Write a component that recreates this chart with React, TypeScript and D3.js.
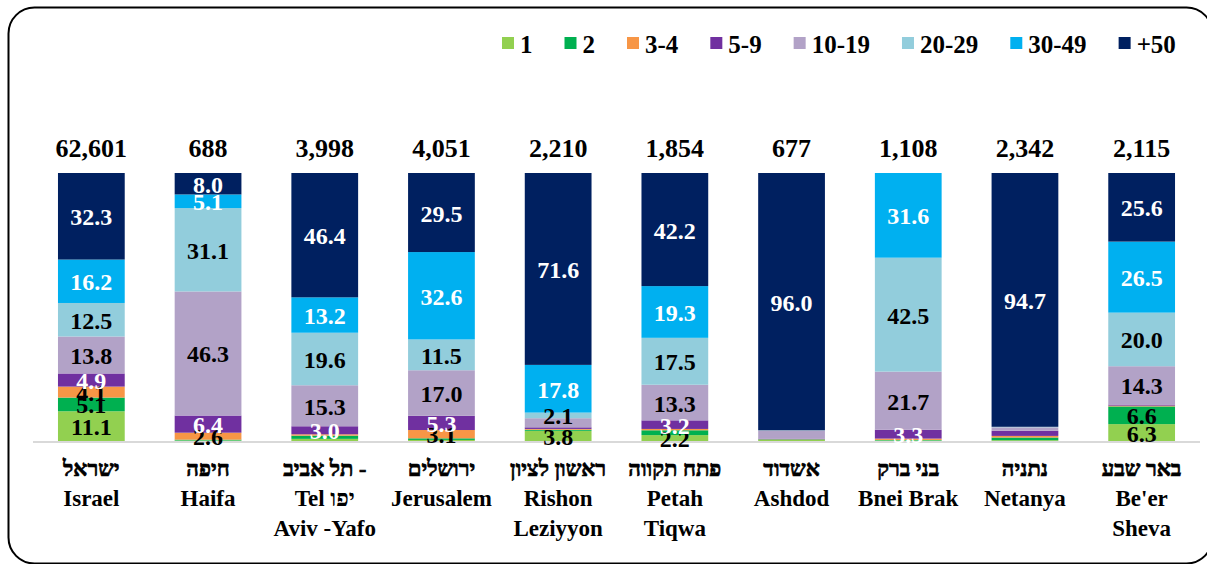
import React, { useMemo } from 'react';
import * as d3 from 'd3';

// cities (Hebrew / English label lines)
const cities = ['Israel', 'Haifa', 'TelAviv', 'Jerusalem', 'Rishon', 'Petah', 'Ashdod', 'BneiBrak', 'Netanya', 'BeerSheva'];
const cityLines: string[][] = [
  ['ישראל', 'Israel'],
  ['חיפה', 'Haifa'],
  ['תל אביב -', 'Tel יפו', 'Aviv -Yafo'],
  ['ירושלים', 'Jerusalem'],
  ['ראשון לציון', 'Rishon', 'Leziyyon'],
  ['פתח תקווה', 'Petah', 'Tiqwa'],
  ['אשדוד', 'Ashdod'],
  ['בני ברק', 'Bnei Brak'],
  ['נתניה', 'Netanya'],
  ['באר שבע', "Be'er", 'Sheva'],
];
const totals = ['62,601', '688', '3,998', '4,051', '2,210', '1,854', '677', '1,108', '2,342', '2,115'];

// series, bottom to top (percent)
const seriesNames = ['1', '2', '3-4', '5-9', '10-19', '20-29', '30-49', '+50'];
const s1 = [11.1, 0.2, 0.8, 0.4, 3.8, 2.2, 0.4, 0.2, 0.3, 6.3];
const s2 = [5.1, 0.3, 1.2, 0.6, 0.4, 1.8, 0.2, 0.2, 1.0, 6.6];
const s3 = [4.1, 2.6, 0.5, 3.1, 0.3, 0.5, 0.1, 0.5, 0.6, 0.3];
const s4 = [4.9, 6.4, 3.0, 5.3, 0.6, 3.2, 0.2, 3.3, 1.9, 0.4];
const s5 = [13.8, 46.3, 15.3, 17.0, 3.4, 13.3, 3.0, 21.7, 1.3, 14.3];
const s6 = [12.5, 31.1, 19.6, 11.5, 2.1, 17.5, 0.1, 42.5, 0.2, 20.0];
const s7 = [16.2, 5.1, 13.2, 32.6, 17.8, 19.3, 0, 31.6, 0, 26.5];
const s8 = [32.3, 8.0, 46.4, 29.5, 71.6, 42.2, 96.0, 0, 94.7, 25.6];
const seriesValues = [s1, s2, s3, s4, s5, s6, s7, s8];

const colors = ['#92d050', '#00b050', '#f79646', '#7030a0', '#b2a2c7', '#92cddc', '#00b0f0', '#002060'];
const whiteLabel = ['5-9', '30-49', '+50'];
// labels removed in the original
const hiddenLabels = ['Ashdod|10-19', 'Rishon|10-19'];

const FONT = "'Liberation Serif', 'Times New Roman', serif";

function measure(text: string, font: string) {
  const ctx = document.createElement('canvas').getContext('2d');
  if (!ctx) return text.length * 12;
  ctx.font = font;
  return ctx.measureText(text).width;
}

const isHebrewOnly = (s: string) => /[\u0590-\u05ff]/.test(s) && !/[A-Za-z]/.test(s);

export default function App() {
  const W = 1207;
  const H = 564;
  const plot = { left: 33, right: 1200, top: 173, bottom: 441 };

  const rows = useMemo(
    () =>
      cities.map((c, i) => {
        const r: any = { city: c };
        seriesNames.forEach((s, j) => (r[s] = seriesValues[j][i]));
        return r;
      }),
    []
  );
  const stacked = d3.stack().keys(seriesNames)(rows);

  const x = d3.scaleBand().domain(cities).range([plot.left, plot.right]).paddingInner(0.428).paddingOuter(0.214);
  const y = d3.scaleLinear().domain([0, 100]).range([plot.bottom, plot.top]);
  const cx = (c: string) => (x(c) ?? 0) + x.bandwidth() / 2;

  // legend layout
  const legendSize = 25;
  const legendFont = `bold ${legendSize}px ${FONT}`;
  const legendItems: { name: string; x: number; color: string }[] = [];
  let lx = 502;
  seriesNames.forEach((s, i) => {
    legendItems.push({ name: s, x: lx, color: colors[i] });
    lx += 12 + 6 + measure(s, legendFont) + 32;
  });

  return (
    <svg width={W} height={H} style={{ position: 'absolute', left: 0, top: 0, display: 'block' }} fontFamily={FONT}>
      <rect x={0} y={0} width={W} height={H} fill="#fff" />
      <rect x={8.5} y={7.5} width={1204} height={556} rx={26} fill="none" stroke="#000" strokeWidth={2} />

      {legendItems.map((d) => (
        <g key={d.name}>
          <rect x={d.x} y={37} width={12} height={12} fill={d.color} />
          <text x={d.x + 18} y={44} dominantBaseline="central" fontSize={legendSize} fontWeight="bold" fill="#000">
            {d.name}
          </text>
        </g>
      ))}

      {stacked.map((layer, j) => (
        <g key={layer.key} fill={colors[j]}>
          {layer.map((seg, i) => (
            <rect
              key={i}
              x={x(cities[i])}
              y={y(seg[1])}
              width={x.bandwidth()}
              height={Math.max(0, y(seg[0]) - y(seg[1]))}
            />
          ))}
        </g>
      ))}

      <line x1={plot.left} x2={plot.right} y1={plot.bottom + 1} y2={plot.bottom + 1} stroke="#d9d9d9" strokeWidth={2} />

      {stacked.map((layer, j) =>
        layer.map((seg, i) => {
          const v = seg[1] - seg[0];
          if (v < 2 || hiddenLabels.includes(`${cities[i]}|${layer.key}`)) return null;
          return (
            <text
              key={`${layer.key}-${i}`}
              x={cx(cities[i])}
              y={(y(seg[0]) + y(seg[1])) / 2 + 1}
              textAnchor="middle"
              dominantBaseline="central"
              fontSize={24}
              fontWeight="bold"
              fill={whiteLabel.includes(layer.key) ? '#fff' : '#000'}
            >
              {v.toFixed(1)}
            </text>
          );
        })
      )}

      {cities.map((c, i) => (
        <text
          key={`t-${c}`}
          x={cx(c)}
          y={148}
          textAnchor="middle"
          dominantBaseline="central"
          fontSize={26}
          fontWeight="bold"
          fill="#000"
        >
          {totals[i]}
        </text>
      ))}

      {cities.map((c, i) => (
        <text key={`c-${c}`} x={cx(c)} textAnchor="middle" fontWeight="bold" fill="#000">
          {cityLines[i].map((ln, k) => (
            <tspan
              key={k}
              x={cx(c)}
              y={468 + k * 30}
              dominantBaseline="central"
              fontSize={isHebrewOnly(ln) ? 22 : 23}
              stroke={isHebrewOnly(ln) ? '#000' : 'none'}
              strokeWidth={isHebrewOnly(ln) ? 0.7 : 0}
            >
              {ln}
            </tspan>
          ))}
        </text>
      ))}
    </svg>
  );
}
